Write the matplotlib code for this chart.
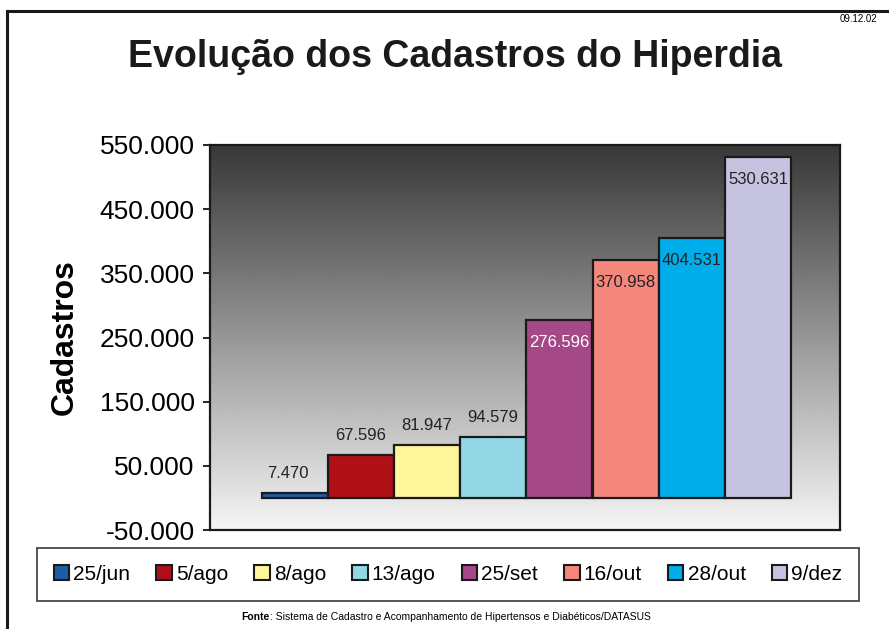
import numpy as np
import matplotlib.pyplot as plt
from matplotlib.patches import Patch
from matplotlib.lines import Line2D

plt.rcParams['font.family'] = ['Liberation Sans', 'DejaVu Sans']

datas = ['25/jun', '5/ago', '8/ago', '13/ago', '25/set', '16/out', '28/out', '9/dez']
cadastros = [7470, 67596, 81947, 94579, 276596, 370958, 404531, 530631]
cores = ['#1a5ea8', '#b00f18', '#fff59a', '#92d8e4', '#a44888', '#f4877c', '#00adeb', '#c6c3e0']
yticks = [-50000, 50000, 150000, 250000, 350000, 450000, 550000]


def fmt(v):
    return '{:,}'.format(v).replace(',', '.')


fig = plt.figure(figsize=(8.89, 6.29), dpi=100)
ax = fig.add_axes([210/889, 1-530/629, 630/889, 385/629])

xlim = (-1.28, 8.24)
ylim = (-50000, 550000)

# fundo em degrade (escuro em cima, claro embaixo)
grad = np.linspace(0.96, 0.22, 256).reshape(-1, 1)
ax.imshow(grad, cmap='gray', vmin=0, vmax=1, aspect='auto', origin='lower',
          extent=(xlim[0], xlim[1], ylim[0], ylim[1]), zorder=0)

x = np.arange(len(datas))
ax.bar(x, cadastros, width=1.0, color=cores, edgecolor='#1a1a1a',
       linewidth=1.6, zorder=2)

for xi, v, c in zip(x, cadastros, cores):
    if v < 150000:
        ax.annotate(fmt(v), (xi - 0.1 if v < 10000 else xi, v), xytext=(0, 14),
                    textcoords='offset points', ha='center', va='center',
                    fontsize=12, color='#222222', zorder=3)
    else:
        ax.annotate(fmt(v), (xi, v), xytext=(0, -16), textcoords='offset points',
                    ha='center', va='center', fontsize=12,
                    color='white' if c == '#a44888' else '#222222', zorder=3)

ax.set_xlim(xlim)
ax.set_ylim(ylim)
ax.set_xticks([])
ax.set_yticks(yticks)
ax.set_yticklabels([fmt(t) for t in yticks], fontsize=19)
ax.tick_params(axis='y', direction='out', length=5, width=1.2, pad=6)
for s in ax.spines.values():
    s.set_linewidth(1.6)
    s.set_color('#1a1a1a')
ax.set_ylabel('Cadastros', fontsize=23, fontweight='bold', labelpad=14)

fig.text(455/889, 1-57/629, 'Evolução dos Cadastros do Hiperdia', ha='center',
         va='center', fontsize=27, fontweight='bold', color='#1a1a1a')
fig.text(877/889, 1-19/629, '09.12.02', ha='right', va='center', fontsize=7)

handles = [Patch(facecolor=c, edgecolor='#1a1a1a', linewidth=1.5) for c in cores]
leg = fig.legend(handles, datas, ncol=8, loc='center', mode='expand',
                 bbox_to_anchor=(37/889, 1-600/629, 822/889, 51/629),
                 fontsize=15, frameon=True, fancybox=False, edgecolor='#1a1a1a',
                 handlelength=0.75, handleheight=0.75, handletextpad=0.2,
                 borderaxespad=0, borderpad=0.8, columnspacing=1.0)
leg.get_frame().set_linewidth(1.3)

fig.text(270/889, 1-617/629, 'Fonte', ha='right', va='center', fontsize=7.5,
         fontweight='bold')
fig.text(270/889, 1-617/629, ': Sistema de Cadastro e Acompanhamento de Hipertensos e Diabéticos/DATASUS',
         ha='left', va='center', fontsize=7.5)

# moldura externa
fig.add_artist(Line2D([7/889, 1], [1-11/629, 1-11/629], color='#1a1a1a', linewidth=2.2))
fig.add_artist(Line2D([7/889, 7/889], [1-11/629, 0], color='#1a1a1a', linewidth=2.2))

plt.savefig('out.png', dpi=100)
